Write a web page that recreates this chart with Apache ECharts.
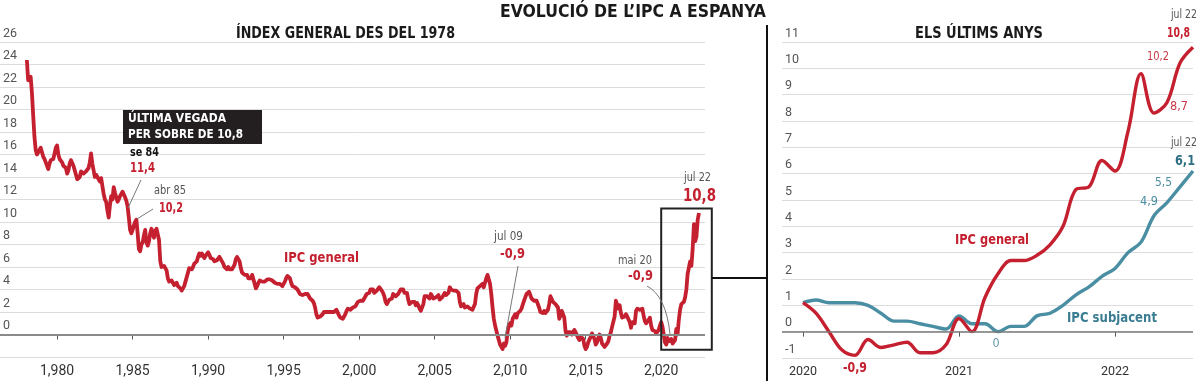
<!DOCTYPE html>
<html><head><meta charset="utf-8">
<script src="https://cdn.jsdelivr.net/npm/echarts@6/dist/echarts.min.js"></script>
<style>html,body{margin:0;padding:0;background:#fff}#c{width:1200px;height:381px}</style>
</head><body><div id="c"></div>
<script>
// ---------- DATA ----------
// IPC general, variació interanual (%), mensual des de gener 1978
const longStartYear = 1978;
const ipc1978_1989 = [
  24.4, 22.6, 22.5, 22.9, 21.5, 19.5, 17.6, 16.4, 16.0, 16.0, 16.4, 16.6,
  16.2, 15.8, 15.6, 15.3, 15.0, 14.7, 15.2, 15.5, 15.4, 15.6, 16.1, 16.6,
  16.8, 16.0, 15.6, 15.5, 15.3, 15.0, 15.1, 14.8, 14.3, 14.6, 15.2, 15.5,
  15.5, 15.0, 14.6, 14.2, 13.8, 13.7, 14.0, 14.5, 14.6, 14.3, 14.4, 14.5,
  14.5, 14.8, 15.3, 16.1, 15.2, 14.6, 14.0, 14.2, 14.0, 13.8, 13.6, 13.9,
  13.2, 12.5, 12.0, 11.8, 11.0, 10.4, 11.5, 12.3, 12.0, 13.1, 12.6, 12.2,
  11.8, 12.0, 12.3, 12.5, 12.7, 12.6, 12.2, 11.9, 11.4, 10.4, 9.3, 9.0,
  9.3, 9.7, 10.0, 10.2, 9.0, 7.6, 7.4, 8.0, 8.2, 8.8, 9.3, 8.2,
  7.9, 8.3, 9.0, 9.4, 9.3, 8.6, 9.2, 9.4, 9.3, 8.4, 6.5, 6.0,
  6.0, 6.1, 5.9, 5.7, 5.0, 4.7, 4.6, 4.8, 4.6, 4.4, 4.5, 4.6,
  4.3, 4.2, 4.1, 3.9, 3.9, 4.3, 4.7, 5.1, 5.5, 5.9, 6.0, 5.8,
  6.0, 6.3, 6.2, 6.5, 6.9, 7.2, 7.0, 7.2, 7.0, 6.8, 7.0, 6.9
];
const ipc1990_1999 = [
  7.3, 7.1, 6.8, 6.9, 6.7, 6.5, 6.4, 6.6, 6.5, 6.9, 6.8, 6.5,
  6.3, 6.0, 5.9, 5.8, 6.0, 5.8, 5.9, 5.8, 5.9, 6.2, 6.7, 6.9,
  6.8, 6.5, 5.9, 5.5, 5.6, 5.3, 5.2, 5.3, 5.0, 5.1, 5.0, 5.3,
  4.9, 4.5, 4.1, 4.3, 4.6, 4.8, 4.7, 4.7, 4.8, 4.7, 4.8, 4.9,
  5.0, 4.9, 4.8, 4.8, 4.7, 4.6, 4.6, 4.5, 4.6, 4.5, 4.4, 4.3,
  4.4, 4.7, 5.0, 5.2, 5.1, 5.0, 4.6, 4.3, 4.2, 4.2, 4.1, 4.0,
  3.8, 3.6, 3.5, 3.5, 3.6, 3.6, 3.7, 3.6, 3.5, 3.2, 3.1, 3.0,
  2.8, 2.4, 1.8, 1.5, 1.4, 1.6, 1.6, 1.8, 2.0, 1.9, 2.0, 1.9,
  2.0, 1.9, 2.0, 2.1, 2.0, 2.1, 2.2, 2.1, 1.7, 1.5, 1.4, 1.4,
  1.5, 1.8, 2.1, 2.3, 2.2, 2.2, 2.2, 2.4, 2.5, 2.5, 2.7, 2.9
];
const ipc2000_2009 = [
  2.9, 3.0, 2.9, 3.0, 3.2, 3.4, 3.6, 3.6, 3.7, 4.0, 4.1, 4.0,
  3.7, 3.8, 3.9, 4.0, 4.2, 4.2, 3.9, 3.7, 3.4, 2.9, 2.7, 2.7,
  3.1, 3.1, 3.2, 3.6, 3.6, 3.4, 3.4, 3.6, 3.5, 4.0, 3.9, 4.0,
  3.7, 3.8, 3.7, 3.1, 2.7, 2.7, 2.9, 3.0, 2.9, 2.6, 2.8, 2.6,
  2.3, 2.1, 2.1, 2.7, 3.4, 3.5, 3.4, 3.3, 3.2, 3.6, 3.5, 3.2,
  3.1, 3.3, 3.4, 3.5, 3.1, 3.1, 3.3, 3.3, 3.7, 3.5, 3.4, 3.7,
  4.2, 4.0, 3.9, 3.9, 4.0, 3.9, 4.0, 3.7, 2.9, 2.5, 2.6, 2.7,
  2.4, 2.4, 2.5, 2.4, 2.3, 2.4, 2.2, 2.2, 2.7, 3.6, 4.1, 4.2,
  4.3, 4.4, 4.5, 4.2, 4.6, 5.0, 5.3, 4.9, 4.5, 3.6, 2.4, 1.4,
  0.8, 0.7, -0.1, -0.2, -0.9, -1.0, -1.3, -0.8, -1.0, -0.7, 0.3, 0.8
];
const ipc2010_2022 = [
  1.0, 0.8, 1.4, 1.5, 1.8, 1.5, 1.9, 1.8, 2.1, 2.3, 2.3, 3.0,
  3.3, 3.6, 3.6, 3.8, 3.5, 3.2, 3.1, 3.0, 3.1, 3.0, 2.9, 2.4,
  2.0, 2.0, 1.9, 2.1, 1.9, 1.9, 2.2, 2.7, 3.4, 3.5, 2.9, 2.9,
  2.7, 2.8, 2.4, 1.4, 1.7, 2.1, 1.8, 1.5, 0.3, -0.1, 0.2, 0.3,
  0.2, 0.0, -0.1, 0.4, 0.2, 0.1, -0.3, -0.5, -0.2, -0.1, -0.4, -1.0,
  -1.3, -1.1, -0.7, -0.6, -0.2, 0.1, 0.1, -0.4, -0.9, -0.7, -0.3, 0.0,
  -0.3, -0.8, -0.8, -1.1, -1.0, -0.8, -0.6, -0.1, 0.2, 0.7, 0.7, 1.6,
  3.0, 3.0, 2.3, 2.6, 1.9, 1.5, 1.5, 1.6, 1.8, 1.6, 1.7, 1.1,
  0.6, 1.1, 1.2, 1.0, 2.1, 2.3, 2.2, 2.2, 2.3, 2.3, 1.7, 1.2,
  1.0, 1.1, 1.3, 1.5, 0.8, 0.4, 0.5, 0.3, 0.1, 0.1, 0.4, 0.8,
  1.1, 0.7, 0.0, -0.7, -0.9, -0.3, -0.6, -0.5, -0.4, -0.8, -0.8, -0.5,
  0.5, 0.0, 1.3, 2.2, 2.7, 2.7, 2.9, 3.3, 4.0, 5.4, 5.5, 6.5,
  6.1, 7.6, 9.8, 8.3, 8.7, 10.2, 10.8
];
const longTicks = [1980, 1985, 1990, 1995, 2000, 2005, 2010, 2015, 2020];

// Els últims anys: gener 2020 - juliol 2022
const recentStartYear = 2020;
const recentGeneral = [
  1.1, 0.7, 0.0, -0.7, -0.9, -0.3, -0.6, -0.5, -0.4, -0.8, -0.8, -0.5,
  0.5, 0.0, 1.3, 2.2, 2.7, 2.7, 2.9, 3.3, 4.0, 5.4, 5.5, 6.5,
  6.1, 7.6, 9.8, 8.3, 8.7, 10.2, 10.8
];
const recentCore = [
  1.1, 1.2, 1.1, 1.1, 1.1, 1.0, 0.7, 0.4, 0.4, 0.3, 0.2, 0.1,
  0.6, 0.3, 0.3, 0.0, 0.2, 0.2, 0.6, 0.7, 1.0, 1.4, 1.7, 2.1,
  2.4, 3.0, 3.4, 4.4, 4.9, 5.5, 6.1
];
const recentTickYears = [2020, 2021, 2022];

// ---------- CHART ----------
const RED = '#c4202f', TEAL = '#4a8ea3', TEAL_T = '#3a7c91', GRAY = '#555', GRID = '#dcdcdc';
const FONT = '"DejaVu Sans Condensed","Liberation Sans Narrow",sans-serif';
const AX = 'Roboto, sans-serif';

const longValues = ipc1978_1989.concat(ipc1990_1999, ipc2000_2009, ipc2010_2022);
const longData = longValues.map((v, i) => [longStartYear + i / 12, v]);
const recentGenData = recentGeneral.map((v, i) => [i, v]);
const recentCoreData = recentCore.map((v, i) => [i, v]);
const recentTickVals = recentTickYears.map(y => (y - recentStartYear) * 12);

const chart = echarts.init(document.getElementById('c'), null, {renderer: 'canvas'});

function yAx(gi, min, max, interval) {
  return {
    type: 'value', gridIndex: gi, min, max, interval,
    axisLine: {show: false}, axisTick: {show: false},
    splitLine: {show: true, lineStyle: {color: GRID, width: 1}},
    axisLabel: {inside: true, margin: 3, verticalAlign: 'bottom', align: 'left', padding: [0, 0, 2, 0],
      color: GRAY, fontFamily: AX, fontSize: 12.5, showMinLabel: true, showMaxLabel: true,
      formatter: v => (min < 0 && v === min && gi === 0) ? '' : String(v)}
  };
}

const option = {
  animation: false,
  backgroundColor: '#fff',
  grid: [
    {left: 0, top: 42, width: 705, height: 315, containLabel: false},
    {left: 782, top: 42, width: 411, height: 316, containLabel: false}
  ],
  xAxis: [
    {type: 'value', gridIndex: 0, min: 1976.22, max: 2022.9,
     axisLine: {show: false}, splitLine: {show: false},
     axisTick: {show: true, customValues: longTicks, length: 5, lineStyle: {color: '#555', width: 1}},
     axisLabel: {customValues: longTicks, margin: 7, color: '#333', fontFamily: AX, fontSize: 14}},
    {type: 'value', gridIndex: 1, min: -1.615, max: 30,
     axisLine: {show: false}, splitLine: {show: false},
     axisTick: {show: true, customValues: recentTickVals, length: 5, lineStyle: {color: '#555', width: 1}},
     axisLabel: {customValues: recentTickVals, margin: 7, color: '#333', fontFamily: AX, fontSize: 12.5,
       formatter: v => String(recentStartYear + Math.round(v / 12))}}
  ],
  yAxis: [yAx(0, -2, 26, 2), yAx(1, -1, 11, 1)],
  series: [
    {type: 'line', xAxisIndex: 0, yAxisIndex: 0, data: [], z: 1, silent: true,
     markLine: {silent: true, symbol: 'none', label: {show: false},
       lineStyle: {color: '#8a8a8a', width: 2, type: 'solid'}, data: [{yAxis: 0}]}},
    {type: 'line', xAxisIndex: 0, yAxisIndex: 0, data: longData, z: 3, showSymbol: false,
     lineStyle: {color: RED, width: 3.8, join: 'round'}, itemStyle: {color: RED}},
    {type: 'line', xAxisIndex: 1, yAxisIndex: 1, data: [], z: 1, silent: true,
     markLine: {silent: true, symbol: 'none', label: {show: false},
       lineStyle: {color: '#7a7a7a', width: 1.5, type: 'solid'}, data: [{yAxis: 0}]}},
    {type: 'line', xAxisIndex: 1, yAxisIndex: 1, data: recentCoreData, z: 3, showSymbol: false, smooth: 0.35,
     lineStyle: {color: TEAL, width: 3.4}, itemStyle: {color: TEAL}},
    {type: 'line', xAxisIndex: 1, yAxisIndex: 1, data: recentGenData, z: 4, showSymbol: false, smooth: 0.35,
     lineStyle: {color: RED, width: 3.4}, itemStyle: {color: RED}}
  ]
};
chart.setOption(option);

// ---------- ANNOTATIONS ----------
const mctx = document.createElement('canvas').getContext('2d');
// x,y: anchor; s: font size; tw: target width in px (text squeezed horizontally to it)
function T(x, y, text, o) {
  o = o || {};
  const font = (o.w || 'normal') + ' ' + (o.s || 12.5) + 'px ' + FONT;
  mctx.font = font;
  const mw = mctx.measureText(text).width || 1;
  const k = o.tw ? o.tw / mw : 1;
  return {type: 'text', z: 50, x, y, scaleX: k, scaleY: 1, silent: true,
    style: {text, x: 0, y: 0, fill: o.fill || GRAY, font,
      textAlign: o.a || 'left', align: o.a || 'left',
      textVerticalAlign: 'middle', verticalAlign: 'middle'}};
}
function L(x1, y1, x2, y2, c, w) {
  return {type: 'line', z: 49, silent: true, shape: {x1, y1, x2, y2}, style: {stroke: c || '#777', lineWidth: w || 1}};
}
const boxTL = chart.convertToPixel({gridIndex: 0}, [2020.0, 11.2]);
const boxBR = chart.convertToPixel({gridIndex: 0}, [2023.35, -1.35]);

const g = [
  // titles
  T(633, 12, 'EVOLUCIÓ DE L’IPC A ESPANYA', {w: 'bold', s: 17.5, tw: 266, fill: '#1a1a1a', a: 'center'}),
  T(345.5, 34, 'ÍNDEX GENERAL DES DEL 1978', {w: 'bold', s: 15, tw: 219, fill: '#1a1a1a', a: 'center'}),
  T(979, 34, 'ELS ÚLTIMS ANYS', {w: 'bold', s: 15, tw: 128, fill: '#1a1a1a', a: 'center'}),
  // separators
  L(767, 25, 767, 381, '#111', 2),
  L(boxBR[0], 278, 767, 278, '#111', 2),
  {type: 'rect', z: 48, silent: true,
   shape: {x: boxTL[0], y: boxTL[1], width: boxBR[0] - boxTL[0], height: boxBR[1] - boxTL[1]},
   style: {fill: 'none', stroke: '#222', lineWidth: 2}},
  // left annotations
  {type: 'rect', z: 48, silent: true, shape: {x: 123, y: 110, width: 139, height: 34}, style: {fill: '#231f20'}},
  T(128, 119, 'ÚLTIMA VEGADA', {w: 'bold', s: 12.5, tw: 98, fill: '#fff'}),
  T(128, 135, 'PER SOBRE DE 10,8', {w: 'bold', s: 12.5, tw: 115, fill: '#fff'}),
  T(130, 153, 'se 84', {w: 'bold', s: 12, tw: 29, fill: '#111'}),
  T(130, 168, '11,4', {w: 'bold', s: 14, tw: 25, fill: RED}),
  L(141, 180, 128, 208),
  T(154, 191, 'abr 85', {s: 12.5, tw: 32}),
  T(159, 208, '10,2', {w: 'bold', s: 14, tw: 24, fill: RED}),
  L(153, 209, 137, 219),
  T(284, 258, 'IPC general', {w: 'bold', s: 14.5, tw: 75, fill: RED}),
  T(494, 237, 'jul 09', {s: 12.5, tw: 29}),
  T(500, 254, '-0,9', {w: 'bold', s: 14, tw: 25, fill: RED}),
  L(518, 266, 505, 338),
  T(618, 261, 'mai 20', {s: 12.5, tw: 34}),
  T(628, 276, '-0,9', {w: 'bold', s: 14, tw: 25, fill: RED}),
  {type: 'bezierCurve', z: 49, silent: true, shape: {x1: 647, y1: 286, x2: 670, y2: 334, cpx1: 666, cpy1: 296}, style: {stroke: '#777', lineWidth: 1, fill: 'none'}},
  T(684, 178, 'jul 22', {s: 12.5, tw: 27}),
  T(683, 196, '10,8', {w: 'bold', s: 18.5, tw: 33, fill: RED}),
  // right annotations
  T(1171, 15, 'jul 22', {s: 12, tw: 26}),
  T(1190, 33, '10,8', {w: 'bold', s: 14.5, tw: 23, fill: RED, a: 'right'}),
  T(1147, 57, '10,2', {s: 12, tw: 22, fill: '#c83a4a'}),
  T(1170, 107, '8,7', {s: 12, tw: 18, fill: '#c83a4a'}),
  T(1171, 143, 'jul 22', {s: 12, tw: 26}),
  T(1195, 161, '6,1', {w: 'bold', s: 14.5, tw: 20, fill: '#2f6f85', a: 'right'}),
  T(1155, 183, '5,5', {s: 12, tw: 17, fill: TEAL}),
  T(1140, 202, '4,9', {s: 12, tw: 18, fill: TEAL}),
  T(955, 240, 'IPC general', {w: 'bold', s: 14.5, tw: 74, fill: RED}),
  T(1067, 318, 'IPC subjacent', {w: 'bold', s: 14.5, tw: 90, fill: TEAL_T}),
  T(996, 344, '0', {s: 12.5, fill: '#6a9aaa', a: 'center'}),
  T(843, 368, '-0,9', {w: 'bold', s: 13.5, tw: 24, fill: RED})
];
chart.setOption({graphic: {elements: g}});
</script>
</body></html>
